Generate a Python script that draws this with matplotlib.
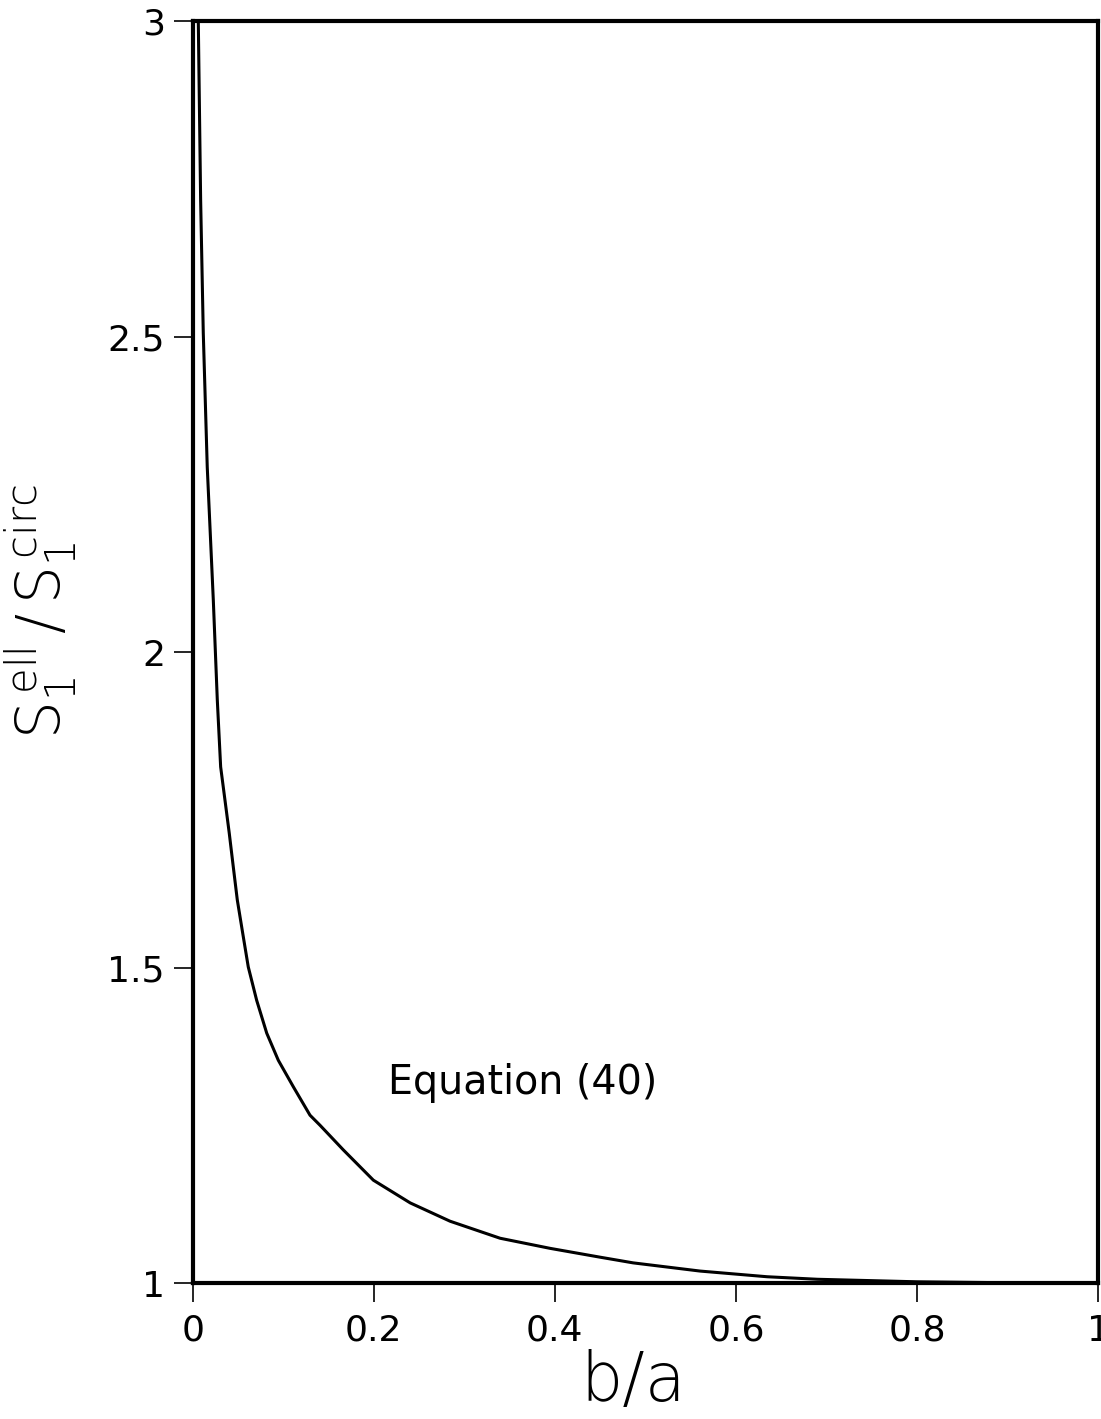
import numpy as np
from matplotlib import pyplot as plt

# curve
ba = [0.0062, 0.0088, 0.0117, 0.0161, 0.0228, 0.0272, 0.0309, 0.0357, 0.0404,
      0.0449, 0.0493, 0.0552, 0.0614, 0.0707, 0.0818, 0.0946, 0.1112, 0.1296,
      0.1407, 0.1664, 0.1996, 0.2403, 0.2843, 0.3396, 0.3948, 0.4500, 0.4865,
      0.5605, 0.6346, 0.690, 0.80, 0.90, 1.0]
ratio = [3.0, 2.716, 2.506, 2.293, 2.082, 1.924, 1.818, 1.765, 1.713,
         1.659, 1.607, 1.555, 1.501, 1.448, 1.396, 1.353, 1.311, 1.266,
         1.250, 1.211, 1.163, 1.127, 1.098, 1.071, 1.055, 1.041, 1.032,
         1.019, 1.010, 1.006, 1.002, 1.0005, 1.0]
xticks = [0, 0.2, 0.4, 0.6, 0.8, 1]
xticklabels = ['0', '0.2', '0.4', '0.6', '0.8', '1']
yticks = [1, 1.5, 2, 2.5, 3]
yticklabels = ['1', '1.5', '2', '2.5', '3']

plt.rcParams['font.family'] = ['DejaVu Sans']
plt.rcParams['mathtext.fontset'] = 'custom'
plt.rcParams['mathtext.rm'] = 'DejaVu Sans:ultralight'
plt.rcParams['mathtext.it'] = 'DejaVu Sans:ultralight'

fig = plt.figure(figsize=(11.01, 14.19), dpi=100)
ax = fig.add_axes([0.175, 0.0958, 0.8223, 0.8894])

ax.plot(ba, ratio, color='black', lw=2.2, solid_joinstyle='round')
ax.set_xlim(0, 1)
ax.set_ylim(1, 3)

ax.set_xticks(xticks)
ax.set_xticklabels(xticklabels)
ax.set_yticks(yticks)
ax.set_yticklabels(yticklabels)
ax.tick_params(direction='out', length=14, width=1.2, labelsize=26)
ax.tick_params(axis='x', pad=8)
ax.tick_params(axis='y', pad=6)
for s in ax.spines.values():
    s.set_linewidth(3)

ax.set_xlabel('b/a', fontsize=48, fontweight='ultralight')
ax.xaxis.set_label_coords(0.4865, -0.052)
ax.set_ylabel(r'$\mathrm{S_1^{\,ell}\,/\,S_1^{\,circ}}$', fontsize=43)
ax.yaxis.set_label_coords(-0.124, 0.532)

ax.text(0.216, 1.317, 'Equation (40)', fontsize=28.5, va='center', ha='left')

fig.savefig('out.png', dpi=100)
